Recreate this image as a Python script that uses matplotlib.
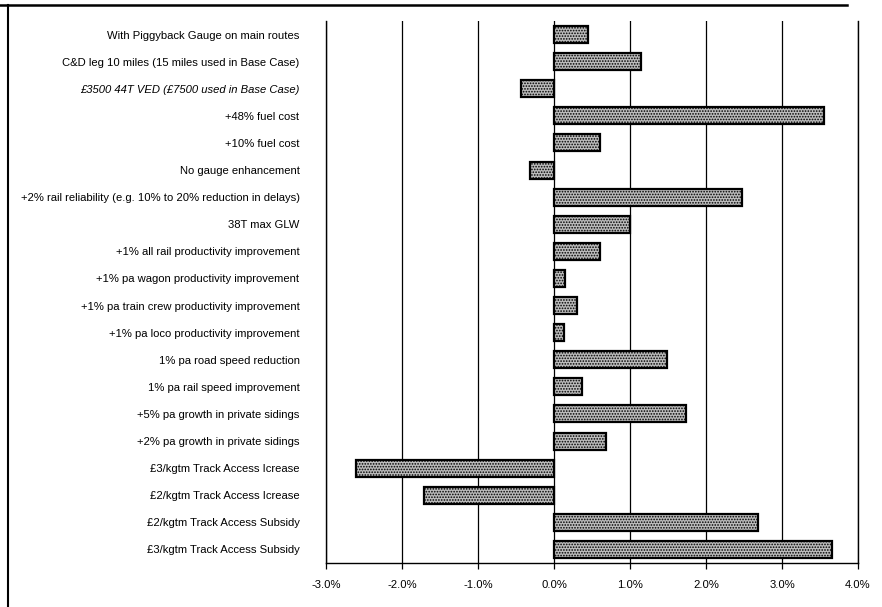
import matplotlib

matplotlib.use("Agg")
from matplotlib import pyplot as plt
from matplotlib.lines import Line2D
from matplotlib.ticker import FuncFormatter, MultipleLocator

plt.rcParams["font.family"] = ["Liberation Sans", "DejaVu Sans"]
plt.rcParams["hatch.color"] = "#5a5a5a"
plt.rcParams["hatch.linewidth"] = 0.8
FSIZE = 8.1

# sensitivity tests, top to bottom
labels = [
    "With Piggyback Gauge on main routes",
    "C&D leg 10 miles (15 miles used in Base Case)",
    "£3500 44T VED (£7500 used in Base Case)",
    "+48% fuel cost",
    "+10% fuel cost",
    "No gauge enhancement",
    "+2% rail reliability (e.g. 10% to 20% reduction in delays)",
    "38T max GLW",
    "+1% all rail productivity improvement",
    "+1% pa wagon productivity improvement",
    "+1% pa train crew productivity improvement",
    "+1% pa loco productivity improvement",
    "1% pa road speed reduction",
    "1% pa rail speed improvement",
    "+5% pa growth in private sidings",
    "+2% pa growth in private sidings",
    "£3/kgtm Track Access Icrease",
    "£2/kgtm Track Access Icrease",
    "£2/kgtm Track Access Subsidy",
    "£3/kgtm Track Access Subsidy",
]
# change relative to base case, %
changes = [0.45, 1.14, -0.43, 3.55, 0.61, -0.32, 2.47, 1.00, 0.61, 0.14,
           0.30, 0.13, 1.49, 0.37, 1.74, 0.69, -2.61, -1.71, 2.69, 3.66]
italic_rows = [2]

fig = plt.figure(figsize=(8.82, 6.07), dpi=100)
ax = fig.add_axes([326 / 882, 1 - 563 / 607, 532 / 882, 542 / 607])

ypos = list(range(len(labels)))
ax.barh(ypos, changes, height=0.63, color="#bcbcbc", edgecolor="black",
        linewidth=1.6, hatch="......", zorder=3)

ax.set_xlim(-3, 4)
ax.set_ylim(len(labels) - 0.5, -0.5)
ax.xaxis.set_major_locator(MultipleLocator(1))
ax.xaxis.set_major_formatter(FuncFormatter(lambda v, _: f"{v:.1f}%"))
ax.grid(axis="x", color="black", linewidth=0.9, zorder=1)
ax.set_axisbelow(True)

ax.set_yticks(ypos)
ax.set_yticklabels(labels)
for i, t in enumerate(ax.get_yticklabels()):
    if i in italic_rows:
        t.set_style("italic")
ax.tick_params(axis="y", length=0, pad=19, labelsize=FSIZE)
ax.tick_params(axis="x", length=4, direction="out", width=0.9, pad=8, labelsize=FSIZE)

ax.spines["top"].set_visible(False)
for side in ("left", "right", "bottom"):
    ax.spines[side].set_linewidth(1.0)

# page frame around the chart
fig.add_artist(Line2D([8 / 882, 8 / 882], [0, 1 - 5 / 607], color="black", linewidth=1.5))
fig.add_artist(Line2D([0, 847 / 882], [1 - 5 / 607, 1 - 5 / 607], color="black", linewidth=1.8))

fig.savefig("out.png", dpi=100)
